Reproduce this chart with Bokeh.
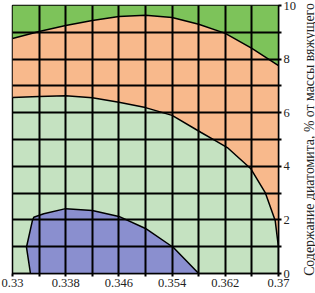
from bokeh.plotting import figure
from bokeh.layouts import row
from bokeh.models import FixedTicker, NumeralTickFormatter, Range1d, Title
from bokeh.embed import file_html
from bokeh.resources import INLINE

# Boundary between dark-green (top) and orange zones
upper_x = [0.33, 0.334, 0.338, 0.342, 0.346, 0.350, 0.354, 0.358, 0.362, 0.366, 0.37]
upper_y = [8.77, 9.03, 9.25, 9.44, 9.59, 9.64, 9.55, 9.30, 8.96, 8.40, 7.76]

# Boundary between orange and light-green zones
mid_x = [0.33, 0.334, 0.338, 0.342, 0.346, 0.350, 0.354, 0.3583, 0.3605, 0.3623, 0.3658, 0.368, 0.3695, 0.37]
mid_y = [6.57, 6.60, 6.63, 6.56, 6.39, 6.19, 5.90, 5.27, 4.96, 4.70, 3.92, 3.02, 1.98, 0.97]

# Blue zone outline (bottom-left)
blue_x = [0.3327, 0.3321, 0.3330, 0.3332, 0.3347, 0.338, 0.342, 0.346, 0.350, 0.3542, 0.358]
blue_y = [0.0, 0.98, 1.98, 2.10, 2.23, 2.42, 2.35, 2.13, 1.68, 0.97, 0.0]

x_major = [0.33, 0.338, 0.346, 0.354, 0.362, 0.37]
x_minor = [0.334, 0.342, 0.35, 0.358, 0.366]
y_major = [0, 2, 4, 6, 8, 10]
y_minor = [1, 3, 5, 7, 9]

Y_LABEL = "Содержание диатомита, % от массы вяжущего"

X0, X1, Y0, Y1 = 0.33, 0.37, 0.0, 10.0

C_TOP = "#7dc35a"
C_ORANGE = "#f8b98c"
C_LIGHT = "#c5e2c1"
C_BLUE = "#8a8fcf"

p = figure(frame_width=266, frame_height=268, output_backend="svg", toolbar_location=None,
           y_axis_location="right", x_range=Range1d(X0, X1), y_range=Range1d(Y0, Y1),
           min_border_left=12, min_border_top=5, min_border_bottom=20, min_border_right=17)
p.background_fill_color = C_LIGHT
p.border_fill_color = "white"
p.outline_line_color = "black"
p.outline_line_width = 1.5

# dark green top zone
p.varea(x=upper_x, y1=upper_y, y2=[Y1] * len(upper_x), fill_color=C_TOP)

# orange zone
ox = upper_x + [X1] + mid_x[::-1]
oy = upper_y + [mid_y[-1]] + mid_y[::-1]
p.patch(ox, oy, fill_color=C_ORANGE, line_color=None)

# blue zone
p.patch(blue_x, blue_y, fill_color=C_BLUE, line_color=None)

# boundary lines
p.line(upper_x, upper_y, line_color="black", line_width=1.5)
p.line(mid_x + [X1], mid_y + [Y0], line_color="black", line_width=1.5)
p.line(blue_x, blue_y, line_color="black", line_width=1.5)

# grid
p.xgrid.ticker = FixedTicker(ticks=sorted(x_major + x_minor))
p.ygrid.ticker = FixedTicker(ticks=sorted(y_major + y_minor))
for g in (p.xgrid, p.ygrid):
    g.grid_line_color = "black"
    g.grid_line_width = 2
    g.grid_line_alpha = 1.0
    g.level = "overlay"

# axes
p.xaxis.ticker = FixedTicker(ticks=x_major, minor_ticks=x_minor)
p.xaxis.formatter = NumeralTickFormatter(format="0.[000]")
p.yaxis.ticker = FixedTicker(ticks=y_major, minor_ticks=y_minor)
for ax in (p.xaxis, p.yaxis):
    ax.axis_line_color = "black"
    ax.axis_line_width = 1.5
    ax.major_tick_line_color = "black"
    ax.minor_tick_line_color = "black"
    ax.major_tick_line_width = 2
    ax.minor_tick_line_width = 2
    ax.major_tick_out = 3
    ax.major_tick_in = 0
    ax.minor_tick_out = 3
    ax.minor_tick_in = 0
    ax.major_label_text_font = "Liberation Serif"
    ax.major_label_text_font_size = "12.5px"
    ax.major_label_text_color = "#222222"
    ax.major_label_standoff = 2

# narrow strip carrying the y-axis title, reading bottom to top
lf = figure(width=20, height=293, output_backend="svg", toolbar_location=None,
            x_range=Range1d(0, 1), y_range=Range1d(0, 1),
            min_border_left=0, min_border_right=0, min_border_top=4, min_border_bottom=0)
lf.axis.visible = False
lf.grid.visible = False
lf.outline_line_color = None
lf.background_fill_color = None
lf.border_fill_color = "white"
lf.title = None
lf.add_layout(Title(text=Y_LABEL, align="center", text_font="Liberation Serif",
                    text_font_size="13.8px", text_font_style="normal",
                    text_color="#222222", offset=0, standoff=1), "left")

layout = row(p, lf)
open("out.html", "w").write(file_html(layout, INLINE))
